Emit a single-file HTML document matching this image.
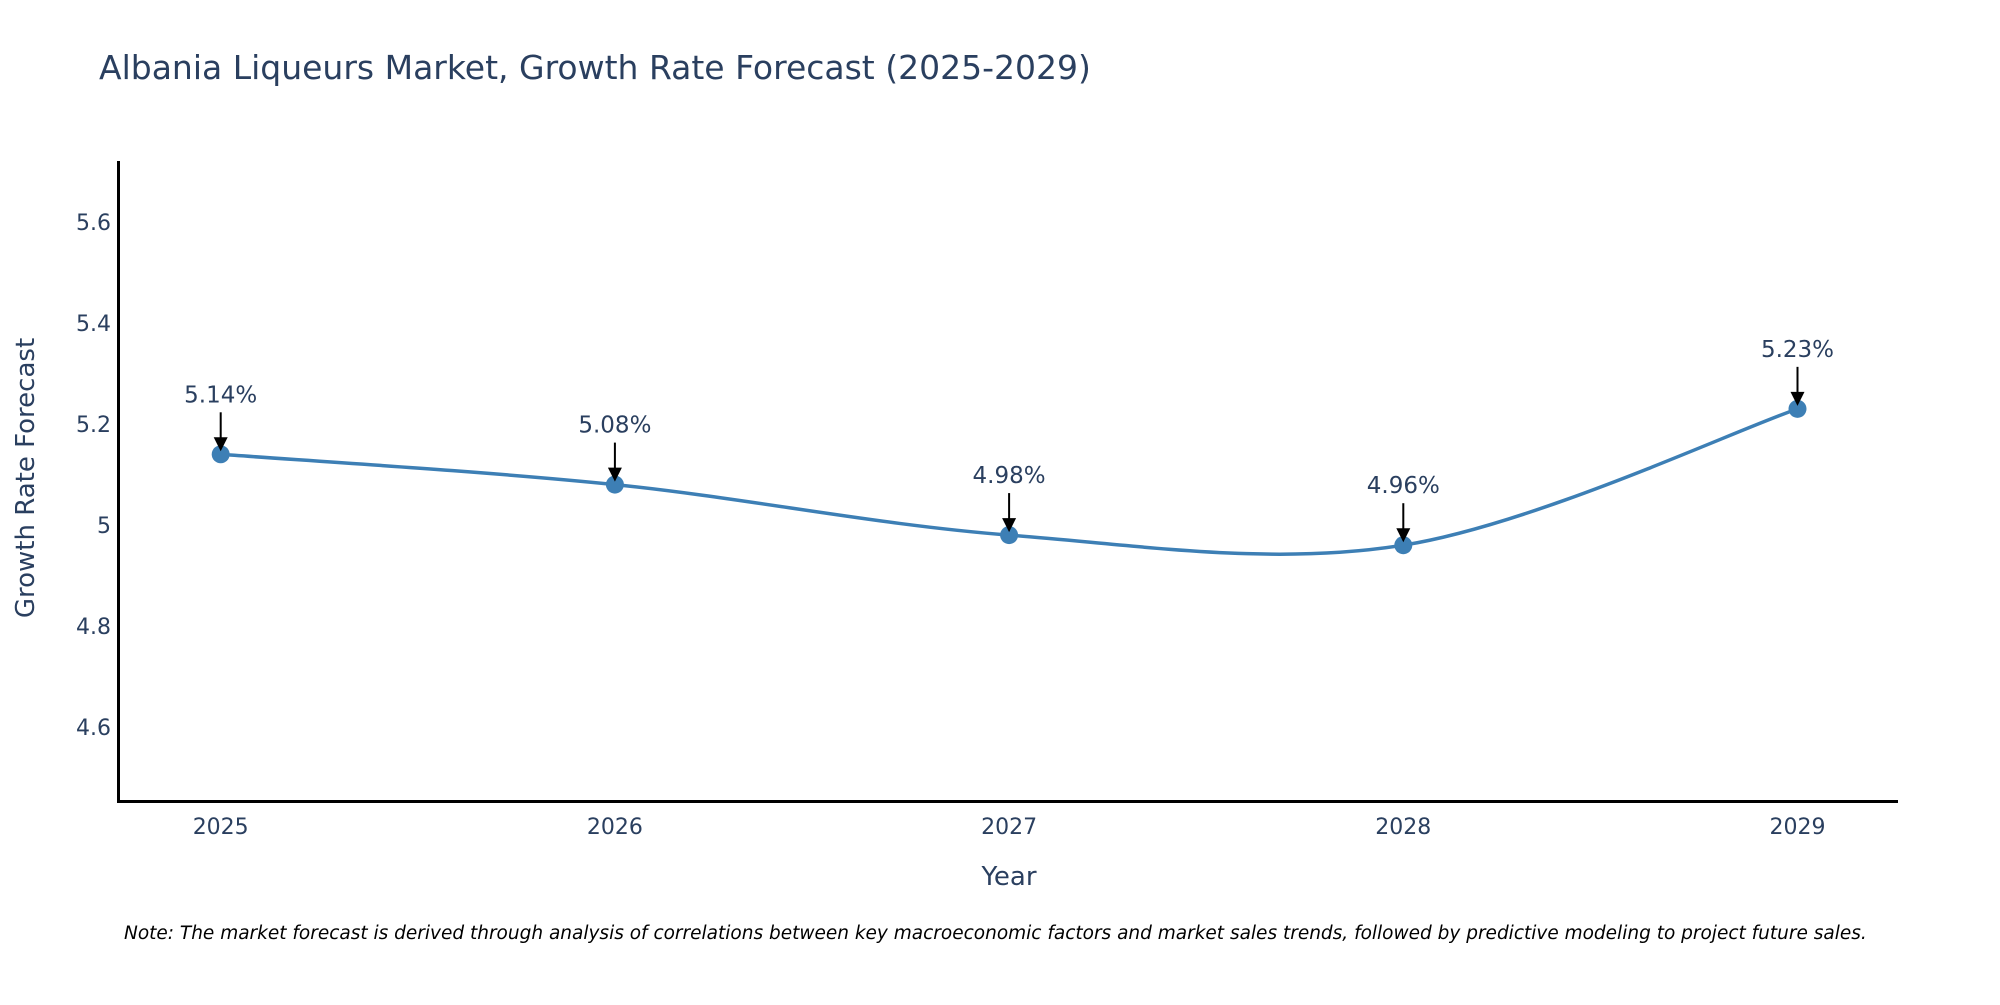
<!DOCTYPE html>
<html><head><meta charset="utf-8"><style>
body{margin:0;background:#fff}
svg text{font-family:"DejaVu Sans","Liberation Sans",sans-serif;fill:#2a3f5f}
</style></head><body>
<svg width="2000" height="1000" xmlns="http://www.w3.org/2000/svg">
<text x="99" y="79" font-size="33">Albania Liqueurs Market, Growth Rate Forecast (2025-2029)</text>
<g id="yticks"></g>
<g id="xticks"></g>
<path id="line" fill="none" stroke="#3d7fb5" stroke-width="3.5"/>
<g id="pts"></g>
<g id="ann"></g>
<line x1="118.5" y1="161" x2="118.5" y2="802" stroke="#000" stroke-width="3"/>
<line x1="117" y1="801.5" x2="1898" y2="801.5" stroke="#000" stroke-width="3"/>
<text transform="translate(34,478) rotate(-90)" text-anchor="middle" font-size="26">Growth Rate Forecast</text>
<text x="1009" y="885" text-anchor="middle" font-size="26">Year</text>
<text x="124" y="939" font-size="18.5" font-style="italic" style="fill:#000">Note: The market forecast is derived through analysis of correlations between key macroeconomic factors and market sales trends, followed by predictive modeling to project future sales.</text>
</svg>
<script>
const years=[2025,2026,2027,2028,2029];
const values=[5.14,5.08,4.98,4.96,5.23];
const labels=["5.14%","5.08%","4.98%","4.96%","5.23%"];
const yTicks=[4.6,4.8,5,5.2,5.4,5.6];
const yTickLabels=["4.6","4.8","5","5.2","5.4","5.6"];
const NS="http://www.w3.org/2000/svg";
const X=v=>220.7+(v-2025)*394.2;
const Y=v=>727-(v-4.6)*505;
function mk(t,a,p){const e=document.createElementNS(NS,t);for(const k in a)e.setAttribute(k,a[k]);p.appendChild(e);return e;}
const yt=document.getElementById('yticks');
yTicks.forEach((v,i)=>{const t=mk('text',{x:111,y:Y(v)+8,'text-anchor':'end','font-size':22},yt);t.textContent=yTickLabels[i];

});
const xt=document.getElementById('xticks');
years.forEach(v=>{const t=mk('text',{x:X(v),y:834,'text-anchor':'middle','font-size':22},xt);t.textContent=v;

});
const P=years.map((y,i)=>[X(y),Y(values[i])]);
let d=`M${P[0][0]},${P[0][1]}`;
for(let i=0;i<P.length-1;i++){const p0=P[Math.max(i-1,0)],p1=P[i],p2=P[i+1],p3=P[Math.min(i+2,P.length-1)];
const c1=[p1[0]+(p2[0]-p0[0])/6,p1[1]+(p2[1]-p0[1])/6],c2=[p2[0]-(p3[0]-p1[0])/6,p2[1]-(p3[1]-p1[1])/6];
d+=` C${c1[0]},${c1[1]} ${c2[0]},${c2[1]} ${p2[0]},${p2[1]}`;}
document.getElementById('line').setAttribute('d',d);
const pg=document.getElementById('pts'),ag=document.getElementById('ann');
P.forEach((p,i)=>{const c=mk('circle',{cx:p[0],cy:p[1],r:9,fill:'#3d7fb5'},pg);


const l=mk('line',{x1:p[0],y1:p[1]-42,x2:p[0],y2:p[1]-14,stroke:'#000','stroke-width':2},ag);


const h=mk('path',{d:`M${p[0]-7},${p[1]-17} L${p[0]+7},${p[1]-17} L${p[0]},${p[1]-3} Z`,fill:'#000'},ag);


const t=mk('text',{x:p[0],y:p[1]-52,'text-anchor':'middle','font-size':23},ag);t.textContent=labels[i];

});
</script>
</body></html>
